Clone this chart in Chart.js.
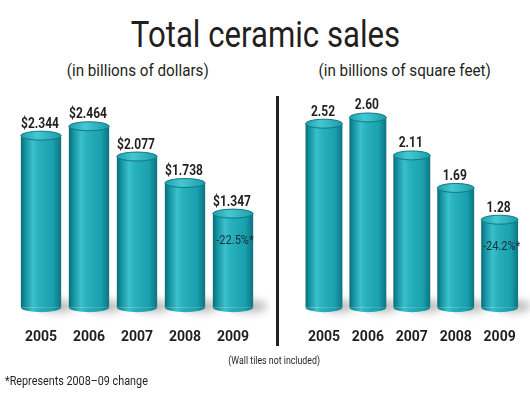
<!DOCTYPE html>
<html>
<head>
<meta charset="utf-8">
<script src="https://cdn.jsdelivr.net/npm/chart.js@4/dist/chart.umd.min.js"></script>
<style>
    html, body { margin: 0; padding: 0; background: #ffffff; }
    body { width: 530px; height: 397px; position: relative; overflow: hidden;
           font-family: Roboto, sans-serif; color: #231f20; }
    .txt { position: absolute; white-space: nowrap; }
    .txt span { display: inline-block; }
    #title { left: 0; width: 532px; top: 17px; text-align: center; font-size: 36px; line-height: 36px; }
    #title span { transform: scaleX(0.866); }
    .sub { top: 63px; font-size: 16px; line-height: 16px; text-align: center; }
    .sub span { transform: scaleX(0.95); }
    #subLeft { left: 38px; width: 200px; }
    #subRight { left: 305px; width: 200px; }
    #divider { position: absolute; left: 276px; top: 96px; width: 3px; height: 250px; background: #231f20; }
    #note { left: 0; width: 549px; top: 356px; font-size: 10px; line-height: 10px; text-align: center; }
    #note span { transform: scaleX(0.88); }
    #foot { left: 5px; top: 375px; font-size: 12px; line-height: 12px; }
    #foot span { transform: scaleX(0.9); transform-origin: left center; }
    .box { position: absolute; top: 90px; height: 270px; }
    #boxLeft { left: 0; width: 270px; }
    #boxRight { left: 280px; width: 250px; }
</style>
</head>
<body>
<div id="title" class="txt"><span>Total ceramic sales</span></div>
<div id="subLeft" class="txt sub"><span>(in billions of dollars)</span></div>
<div id="subRight" class="txt sub"><span>(in billions of square feet)</span></div>
<div id="divider"></div>
<div id="boxLeft" class="box"><canvas id="chartLeft"></canvas></div>
<div id="boxRight" class="box"><canvas id="chartRight"></canvas></div>
<div id="note" class="txt"><span>(Wall tiles not included)</span></div>
<div id="foot" class="txt"><span>*Represents 2008–09 change</span></div>

<script>
    // --- Data ---
    const years = ['2005', '2006', '2007', '2008', '2009'];
    const dollarSales = [2.344, 2.464, 2.077, 1.738, 1.347];
    const dollarLabels = ['$2.344', '$2.464', '$2.077', '$1.738', '$1.347'];
    const sqftSales = [2.52, 2.60, 2.11, 1.69, 1.28];
    const sqftLabels = ['2.52', '2.60', '2.11', '1.69', '1.28'];
    const dollarChange = ['', '', '', '', '-22.5%*'];
    const sqftChange = ['', '', '', '', '-24.2%*'];

    const FONT = 'Roboto, sans-serif';
    const INK = '#231f20';
    const BAR_PCT = 0.84;
    const Y_MIN = 0.15;
    const Y_MAX = 2.8;

    // Horizontal gradient so each bar reads as a cylinder
    function cylinderGradient(ctx, left, right) {
        const g = ctx.createLinearGradient(left, 0, right, 0);
        g.addColorStop(0, '#0a6b76');
        g.addColorStop(0.1, '#13909d');
        g.addColorStop(0.3, '#3bbfcb');
        g.addColorStop(0.45, '#27b0bd');
        g.addColorStop(0.8, '#1aa0ae');
        g.addColorStop(1, '#0c7480');
        return g;
    }

    function cylinderFill(c) {
        const chart = c.chart;
        const xs = chart.scales.x;
        if (!xs || c.dataIndex === undefined) return '#1ba5b3';
        const cx = xs.getPixelForValue(c.dataIndex);
        const w = (xs.width / years.length) * BAR_PCT;
        if (!isFinite(cx) || !isFinite(w) || w <= 0) return '#1ba5b3';
        return cylinderGradient(chart.ctx, cx - w / 2, cx + w / 2);
    }

    // draw text squeezed horizontally (no condensed face installed)
    function narrowText(ctx, text, x, y, squeeze) {
        ctx.save();
        ctx.translate(x, y);
        ctx.scale(squeeze, 1);
        ctx.fillText(text, 0, 0);
        ctx.restore();
    }

    // Caps, floor shadows and value labels drawn from the bar elements
    const cylinderPlugin = {
        id: 'cylinder',
        beforeDatasetsDraw(chart) {
            const ctx = chart.ctx;
            const meta = chart.getDatasetMeta(0);
            ctx.save();
            meta.data.forEach(bar => {
                const half = bar.width / 2;
                // soft floor shadow off to the right
                ctx.save();
                ctx.filter = 'blur(4px)';
                ctx.fillStyle = 'rgba(80,80,80,0.4)';
                ctx.beginPath();
                ctx.ellipse(bar.x + half * 0.8, bar.base - 1, half * 0.9, 6, 0, 0, Math.PI * 2);
                ctx.fill();
                ctx.restore();
                // rounded bottom
                ctx.fillStyle = cylinderGradient(ctx, bar.x - half, bar.x + half);
                ctx.beginPath();
                ctx.ellipse(bar.x, bar.base, half, 5, 0, 0, Math.PI);
                ctx.fill();
            });
            ctx.restore();
        },
        afterDatasetsDraw(chart, args, opts) {
            const ctx = chart.ctx;
            const meta = chart.getDatasetMeta(0);
            ctx.save();
            meta.data.forEach((bar, i) => {
                const half = bar.width / 2;
                // top cap
                const cap = ctx.createLinearGradient(bar.x - half, 0, bar.x + half, 0);
                cap.addColorStop(0, '#1f9fab');
                cap.addColorStop(0.4, '#45c8d2');
                cap.addColorStop(1, '#1c9ca8');
                ctx.fillStyle = cap;
                ctx.strokeStyle = '#0f7984';
                ctx.lineWidth = 1;
                ctx.beginPath();
                ctx.ellipse(bar.x, bar.y, half, 4.5, 0, 0, Math.PI * 2);
                ctx.fill();
                ctx.stroke();
                // value label
                ctx.fillStyle = INK;
                ctx.font = 'bold 15px ' + FONT;
                ctx.textAlign = 'center';
                ctx.textBaseline = 'alphabetic';
                narrowText(ctx, opts.labels[i], bar.x - 1, bar.y - 8, 0.8);
                // change label inside the bar
                if (opts.change[i]) {
                    ctx.font = '13px ' + FONT;
                    ctx.textBaseline = 'middle';
                    ctx.fillStyle = '#16303a';
                    narrowText(ctx, opts.change[i], bar.x + 2, bar.y + 27, 0.85);
                }
            });
            ctx.restore();
        }
    };

    function makeChart(canvasId, values, labels, change, padding) {
        return new Chart(document.getElementById(canvasId), {
            type: 'bar',
            data: {
                labels: years,
                datasets: [{
                    data: values,
                    base: Y_MIN,
                    backgroundColor: cylinderFill,
                    borderWidth: 0,
                    barPercentage: BAR_PCT,
                    categoryPercentage: 1
                }]
            },
            plugins: [cylinderPlugin],
            options: {
                responsive: true,
                maintainAspectRatio: false,
                animation: false,
                layout: { padding: padding },
                plugins: {
                    legend: { display: false },
                    tooltip: { enabled: false },
                    cylinder: { labels: labels, change: change }
                },
                scales: {
                    x: {
                        grid: { display: false },
                        border: { display: false },
                        ticks: {
                            color: INK,
                            padding: 14,
                            maxRotation: 0,
                            autoSkip: false,
                            font: { family: FONT, size: 14, weight: 'bold' }
                        }
                    },
                    y: {
                        display: false,
                        min: Y_MIN,
                        max: Y_MAX
                    }
                }
            }
        });
    }

    makeChart('chartLeft', dollarSales, dollarLabels, dollarChange, { left: 17, right: 13, top: 10, bottom: 0 });
    makeChart('chartRight', sqftSales, sqftLabels, sqftChange, { left: 22, right: 3, top: 12, bottom: 0 });
</script>
</body>
</html>
